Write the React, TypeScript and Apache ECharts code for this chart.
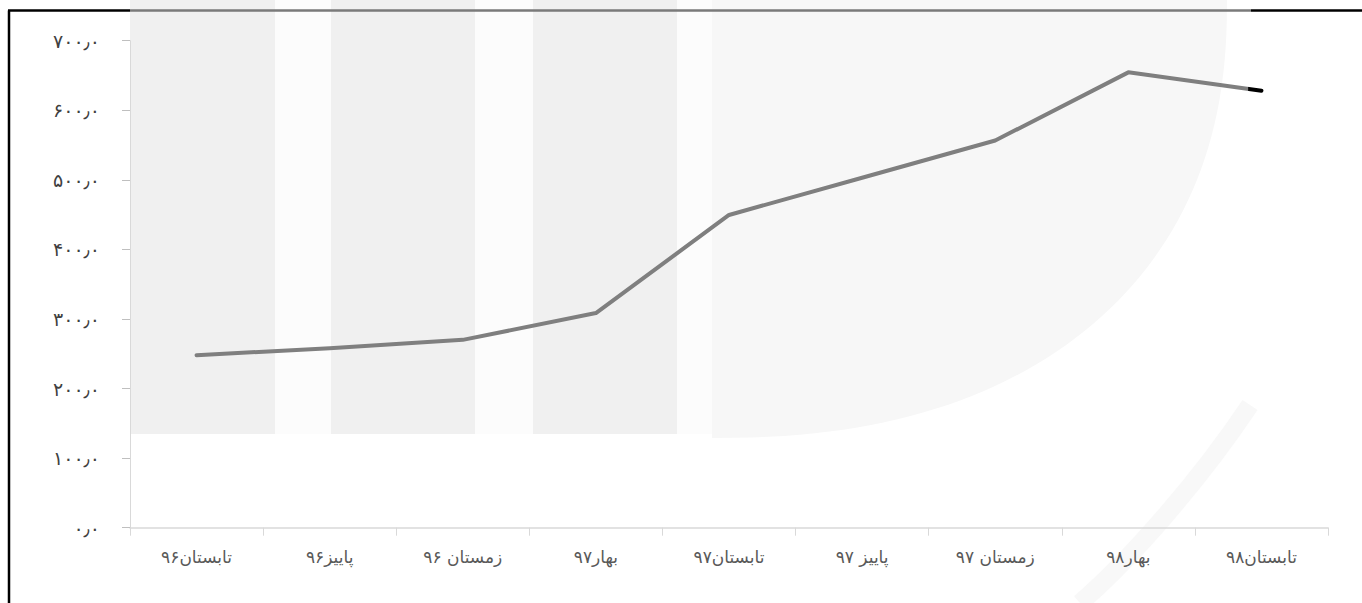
import React, { useEffect, useRef } from "react";
import * as echarts from "echarts";

const categories = [
  "تابستان۹۶",
  "پاییز۹۶",
  "زمستان ۹۶",
  "بهار۹۷",
  "تابستان۹۷",
  "پاییز ۹۷",
  "زمستان ۹۷",
  "بهار۹۸",
  "تابستان۹۸",
];
const values = [248, 258, 270, 308.5, 449.5, 503, 556.5, 654.5, 628];
const yTickLabels = ["۰٫۰", "۱۰۰٫۰", "۲۰۰٫۰", "۳۰۰٫۰", "۴۰۰٫۰", "۵۰۰٫۰", "۶۰۰٫۰", "۷۰۰٫۰"];

function quarterBlob(cx: number, cy: number, rx: number, ry: number, p: number) {
  const pts: number[][] = [[cx, cy]];
  const n = 60;
  for (let i = 0; i <= n; i++) {
    const t = (Math.PI / 2) * (i / n);
    const c = Math.pow(Math.cos(t), 2 / p);
    const s = Math.pow(Math.sin(t), 2 / p);
    pts.push([cx + rx * c, cy + ry * s]);
  }
  return pts;
}

export default function App() {
  const ref = useRef<HTMLDivElement>(null);
  useEffect(() => {
    if (!ref.current) return;
    const chart = echarts.init(ref.current, null, { renderer: "svg" });
    const font = "DejaVu Sans";
    chart.setOption({
      animation: false,
      backgroundColor: "#ffffff",
      grid: { left: 130, right: 34, top: 40.7, bottom: 75.3, containLabel: false },
      xAxis: {
        type: "category",
        data: categories,
        boundaryGap: true,
        axisLine: { show: true, lineStyle: { color: "#d9d9d9", width: 1.5 } },
        axisTick: { show: true, length: 8, lineStyle: { color: "#d9d9d9" }, alignWithLabel: false },
        axisLabel: {
          color: "#595959",
          fontFamily: font,
          fontSize: 17,
          margin: 21,
          interval: 0,
        },
        splitLine: { show: false },
      },
      yAxis: {
        type: "value",
        min: 0,
        max: 700,
        interval: 100,
        axisLine: { show: true, lineStyle: { color: "#d9d9d9", width: 1 } },
        axisTick: { show: true, length: 8, lineStyle: { color: "#bfbfbf" } },
        axisLabel: {
          color: "#404040",
          fontFamily: font,
          fontSize: 19,
          margin: 30,
          formatter: (v: number) => yTickLabels[Math.round(v / 100)] ?? "",
        },
        splitLine: { show: false },
      },
      graphic: [
        { type: "rect", z: -10, shape: { x: 130, y: 0, width: 582, height: 434 }, style: { fill: "#fcfcfc" } },
        { type: "polygon", z: -10, shape: { points: quarterBlob(712, 0, 515, 438, 2.3) }, style: { fill: "#f7f7f7" } },
        { type: "rect", z: -9, shape: { x: 130, y: 0, width: 145, height: 434 }, style: { fill: "#f0f0f0" } },
        { type: "rect", z: -9, shape: { x: 331, y: 0, width: 144, height: 434 }, style: { fill: "#f0f0f0" } },
        { type: "rect", z: -9, shape: { x: 533, y: 0, width: 144, height: 434 }, style: { fill: "#f0f0f0" } },
        {
          type: "bezierCurve",
          z: -9,
          shape: { x1: 1250, y1: 405, x2: 1080, y2: 603, cpx1: 1200, cpy1: 480, cpx2: 1130, cpy2: 560 },
          style: { stroke: "#f8f8f8", lineWidth: 18, fill: null },
        },
        // frame
        { type: "line", z: 10, shape: { x1: 9, y1: 10.5, x2: 9, y2: 603 }, style: { stroke: "#000", lineWidth: 2.5 } },
        { type: "line", z: 10, shape: { x1: 8, y1: 10.5, x2: 130, y2: 10.5 }, style: { stroke: "#000", lineWidth: 2.5 } },
        { type: "line", z: 10, shape: { x1: 130, y1: 10.5, x2: 1251, y2: 10.5 }, style: { stroke: "#7a7a7a", lineWidth: 2.5 } },
        { type: "line", z: 10, shape: { x1: 1251, y1: 10.5, x2: 1362, y2: 10.5 }, style: { stroke: "#000", lineWidth: 2.5 } },
      ],
      series: [
        {
          type: "line",
          data: values,
          symbol: "none",
          lineStyle: {
            width: 4,
            cap: "round",
            join: "round",
            color: new echarts.graphic.LinearGradient(0, 0, 1, 0, [
              { offset: 0, color: "#7f7f7f" },
              { offset: 0.987, color: "#7f7f7f" },
              { offset: 0.988, color: "#000000" },
              { offset: 1, color: "#000000" },
            ]),
          },
          z: 5,
        },
      ],
    });
    return () => chart.dispose();
  }, []);
  return (
    <div
      ref={ref}
      style={{ position: "fixed", left: 0, top: 0, width: 1362, height: 603 }}
    />
  );
}
